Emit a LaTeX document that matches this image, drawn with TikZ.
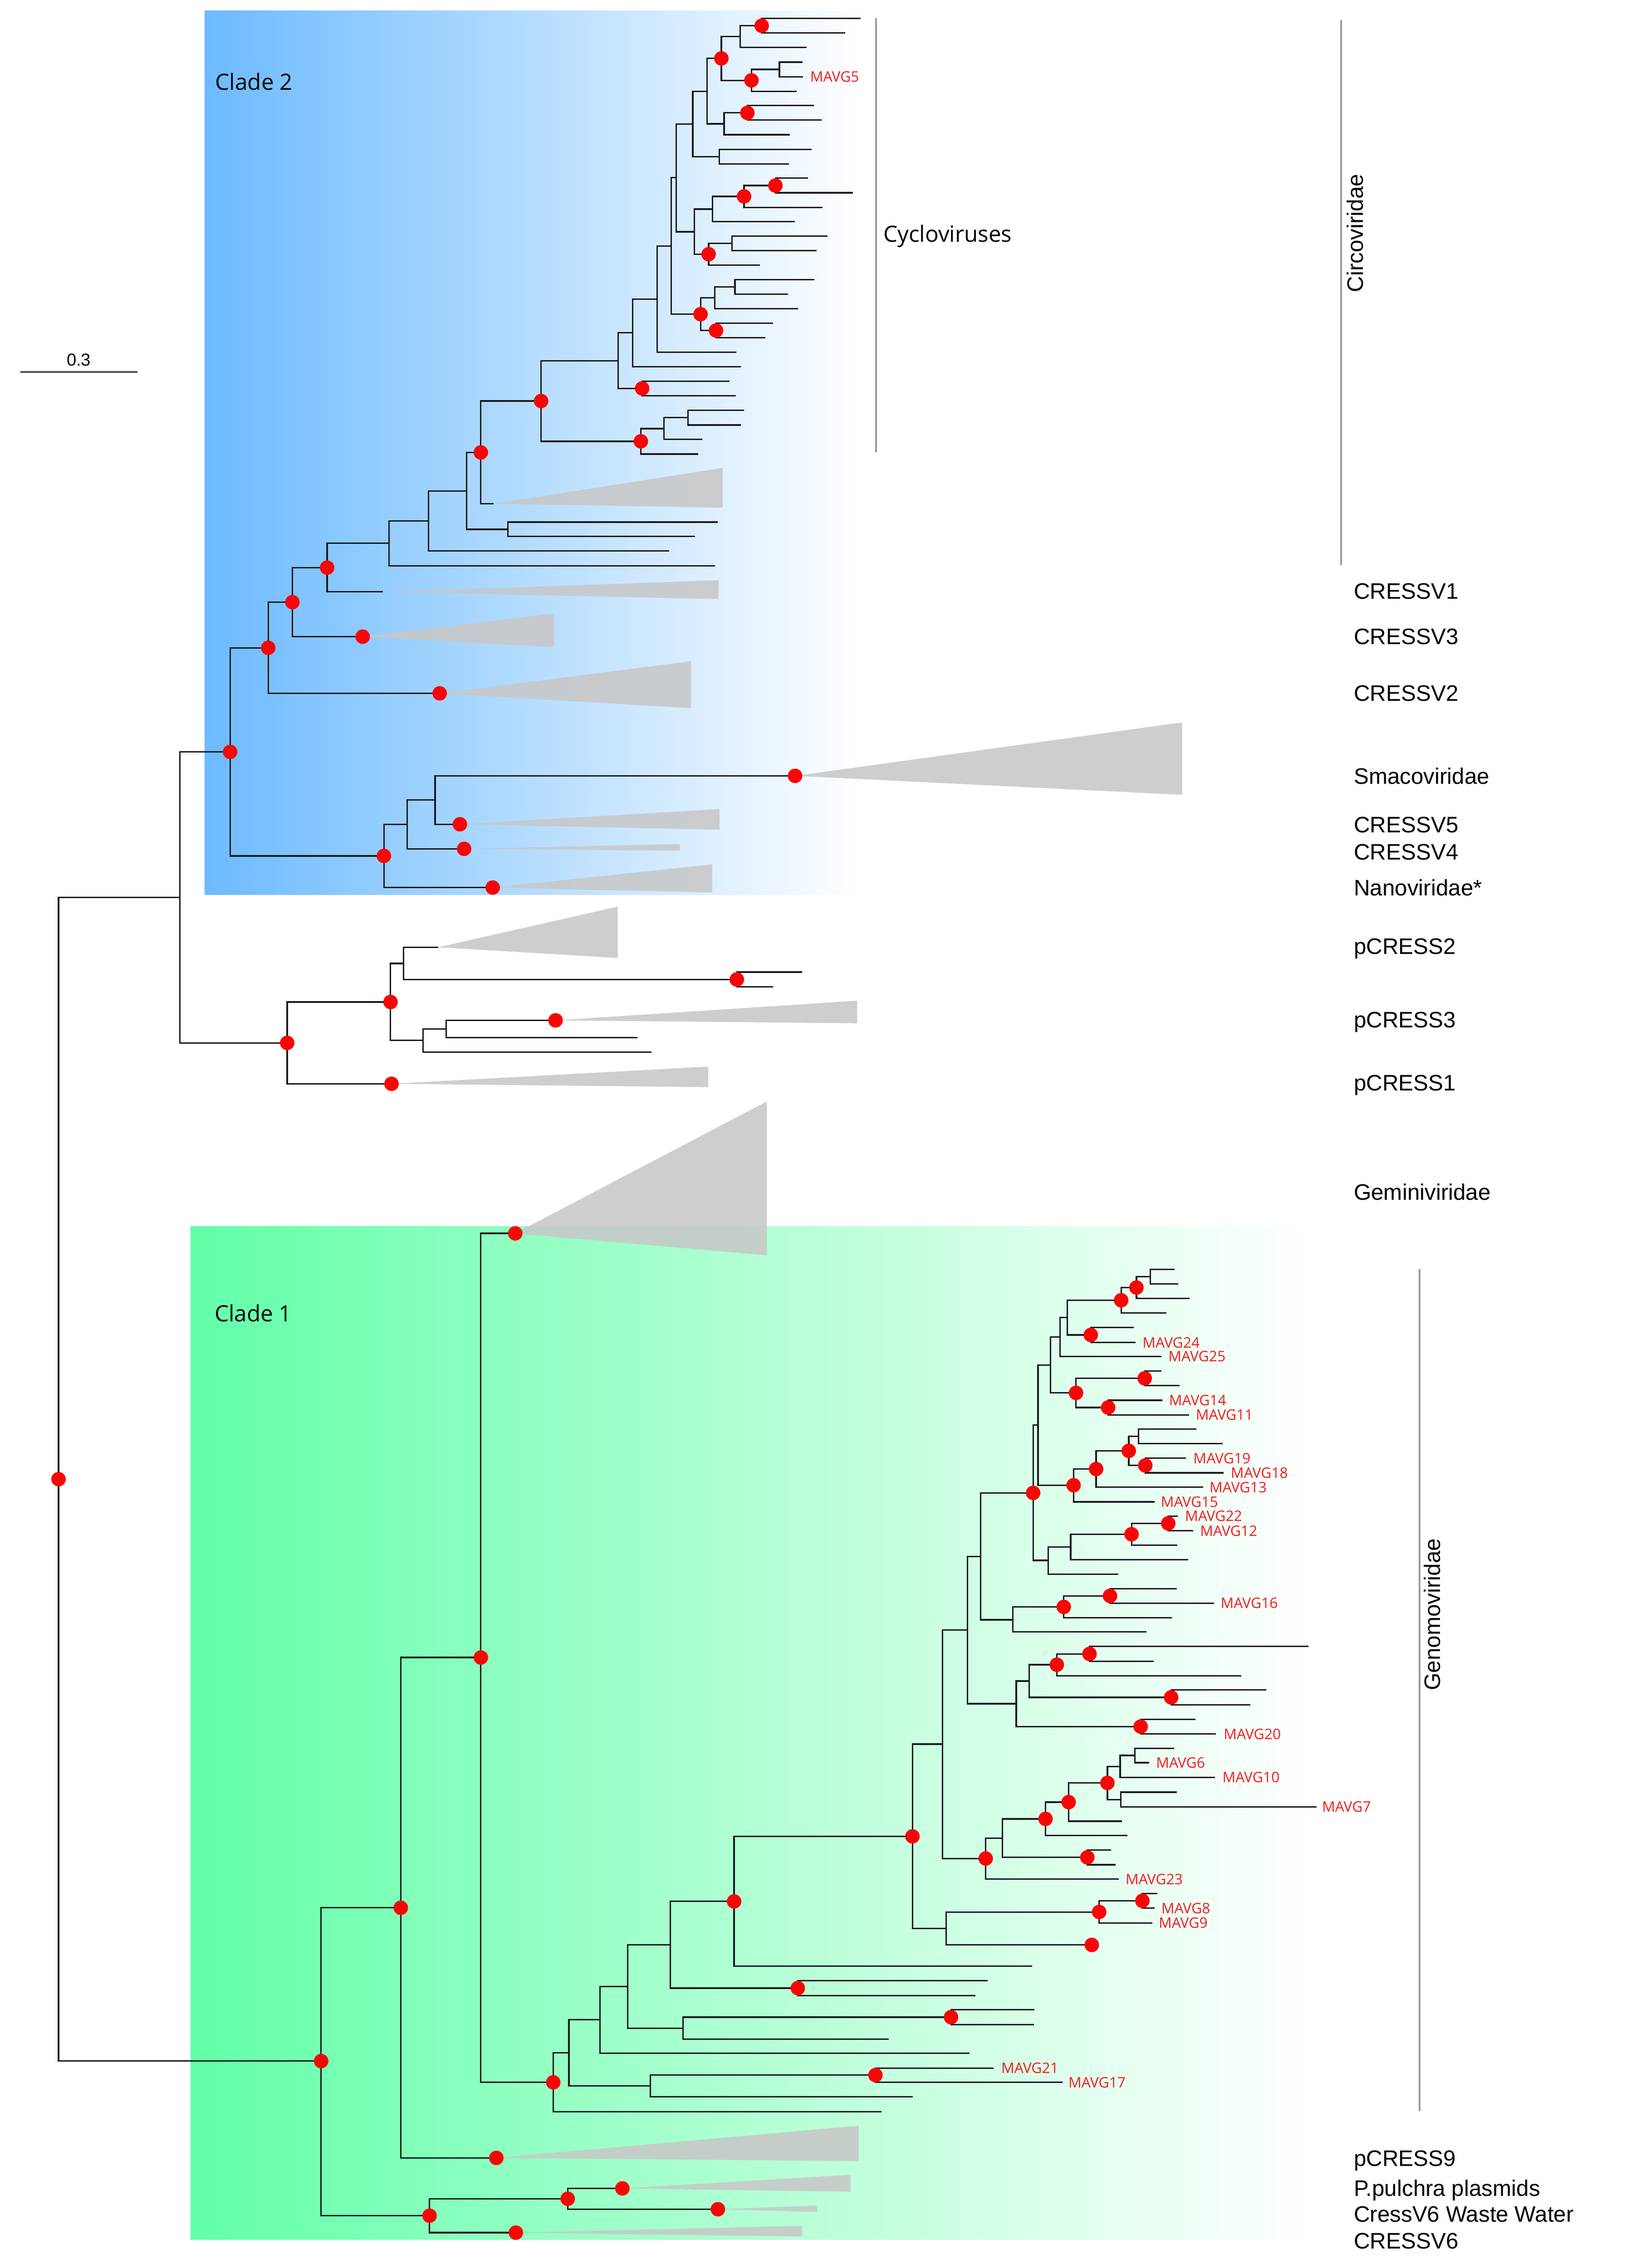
\documentclass[tikz,border=0pt]{standalone}
\usepackage{fontspec}
\setmainfont{Liberation Sans}
\newfontfamily\osans{Open Sans}
\definecolor{brc}{RGB}{25,25,25}
\definecolor{dotc}{RGB}{250,5,5}
\definecolor{tric}{RGB}{200,200,200}
\definecolor{bluL}{RGB}{108,186,255}
\definecolor{bluR}{RGB}{255,255,255}
\definecolor{grnL}{RGB}{98,255,168}
\definecolor{grnR}{RGB}{255,255,255}
\definecolor{mavc}{RGB}{240,30,30}
\definecolor{brkc}{RGB}{155,155,155}
\newcommand{\tpt}[3]{\coordinate (#1) at (#2,#3);}
\newcommand{\tkids}[3]{\draw[br] (#2) -| (#1) |- (#3);}
\newcommand{\ttri}[4]{\fill[tri] (#1) -- (#2,#3) -- (#2,#4) -- cycle;}
\tikzset{
  br/.style={draw=brc, line width=1pt, line join=miter},
  tri/.style={fill=tric, fill opacity=0.88},
  brk/.style={draw=brkc, line width=1.2pt},
  lab/.style={font=\fontsize{15.5}{16}\selectfont, inner sep=0pt, anchor=base west},
  mav/.style={font=\osans\fontsize{10}{11}\selectfont, text=mavc, inner sep=0pt, anchor=base west},
  cld/.style={font=\osans\fontsize{15.5}{16}\selectfont, inner sep=0pt, anchor=base west},
}
\begin{document}
\begin{tikzpicture}[x=1pt,y=-1pt]
\useasboundingbox (0,0) rectangle (1125,1569.5);
\fill[white] (0,0) rectangle (1125,1569.5);
% clade backgrounds
\shade[left color=bluL, right color=bluR] (141.7,7.4) rectangle (596,619.3);
\shade[left color=grnL, right color=grnR] (131.8,848.6) rectangle (905,1549.9);

% ---------------- coordinates: Clade 2 ----------------
\tpt{root}{40.5}{1023.6}
\tpt{nA}{124.4}{621.0}
\tpt{nCl2}{159.2}{520.3}
\tpt{nB}{185.6}{448.3}
\tpt{aV2}{304.2}{479.8}
\tpt{nC}{202.3}{416.7}
\tpt{aV3}{250.9}{440.6}
\tpt{nD}{226.3}{392.8}
\tpt{aV1}{264.8}{409.6}
\tpt{nE}{269.1}{376.0}
\tpt{nF}{296.5}{360.5}
\tpt{tE}{494.6}{391.6}
\tpt{nG}{322.9}{339.7}
\tpt{tF}{462.9}{381.2}
\tpt{nI}{351.5}{366.3}
\tpt{tI1}{496.7}{361.3}
\tpt{tI2}{480.9}{371.3}
\tpt{nH}{332.7}{313.1}
\tpt{aH}{341.4}{348.6}
\tpt{nJ}{374.4}{277.5}
\tpt{nL}{443.4}{305.4}
\tpt{nM}{459.5}{296.6}
\tpt{tL}{483.0}{314.2}
\tpt{nN}{476.1}{289.0}
\tpt{tM}{485.8}{304.1}
\tpt{tN1}{514.8}{284.0}
\tpt{tN2}{512.6}{294.1}
\tpt{nK}{427.7}{249.6}
\tpt{nP}{444.3}{268.8}
\tpt{tP1}{504.7}{263.8}
\tpt{tP2}{509.0}{273.9}
\tpt{nO}{437.8}{230.3}
\tpt{tO}{512.6}{253.7}
\tpt{nQ}{454.6}{207.0}
\tpt{tQ}{509.4}{243.8}
\tpt{nR}{464.3}{170.2}
\tpt{nT}{484.7}{217.4}
\tpt{nU}{494.6}{206.1}
\tpt{tU}{552.0}{213.5}
\tpt{nW}{508.5}{198.6}
\tpt{tW1}{563.6}{193.5}
\tpt{tW2}{545.1}{203.6}
\tpt{nV}{495.4}{228.7}
\tpt{tV1}{534.8}{223.6}
\tpt{tV2}{529.4}{233.7}
\tpt{nS}{467.9}{123.0}
\tpt{nX}{479.3}{85.8}
\tpt{nY}{480.4}{160.4}
\tpt{nZ}{492.9}{144.7}
\tpt{tZ}{549.8}{153.4}
\tpt{nAC}{514.8}{135.9}
\tpt{tAC}{569.0}{143.5}
\tpt{nAD}{536.5}{128.4}
\tpt{tAD1}{558.9}{123.3}
\tpt{tAD2}{590.0}{133.4}
\tpt{nAA}{490.3}{175.9}
\tpt{nAB}{506.6}{168.3}
\tpt{tAA}{525.8}{183.5}
\tpt{tAB1}{572.4}{163.3}
\tpt{tAB2}{564.9}{173.4}
\tpt{nAE}{489.2}{63.2}
\tpt{nAF}{497.8}{108.4}
\tpt{tAF1}{561.7}{103.3}
\tpt{tAF2}{546.0}{113.4}
\tpt{nAG}{499.1}{40.4}
\tpt{nAH}{501.0}{85.7}
\tpt{nAI}{517.1}{78.1}
\tpt{tAH}{546.6}{93.2}
\tpt{tAI1}{563.2}{73.1}
\tpt{tAI2}{568.5}{83.1}
\tpt{nAJ}{512.2}{25.3}
\tpt{nAK}{519.9}{55.6}
\tpt{nAL}{539.3}{48.0}
\tpt{tAK}{551.3}{63.2}
\tpt{tAL1}{555.2}{43.0}
\tpt{tAL2}{555.6}{53.1}
\tpt{nAM}{527.0}{17.8}
\tpt{tAJ}{558.0}{32.9}
\tpt{tAM1}{595.4}{12.7}
\tpt{tAM2}{584.7}{22.8}
\tpt{nBB}{265.6}{592.3}
\tpt{aNano}{340.9}{614.2}
\tpt{nCC}{281.8}{570.5}
\tpt{aV4}{321.1}{587.4}
\tpt{nDD}{301.0}{553.6}
\tpt{aSma}{550.1}{536.9}
\tpt{aV5}{318.2}{570.4}
% pCRESS
\tpt{nPC}{198.7}{721.7}
\tpt{aP1}{270.9}{750.0}
\tpt{nPA}{270.2}{693.4}
\tpt{nPB}{279.2}{666.7}
\tpt{aP2}{303.3}{655.5}
\tpt{nPE}{509.8}{677.8}
\tpt{tPE1}{555.0}{672.7}
\tpt{tPE2}{534.8}{682.9}
\tpt{nPD}{292.7}{720.0}
\tpt{nPF}{308.7}{712.0}
\tpt{tPD}{450.8}{728.0}
\tpt{aP3}{384.4}{706.1}
\tpt{tPF}{441.1}{718.0}
% ---------------- Clade 1 ----------------
\tpt{nG1}{222.2}{1426.3}
\tpt{nG2}{277.3}{1320.2}
\tpt{nG3}{332.7}{1147.0}
\tpt{aGem}{356.5}{853.5}
\tpt{aP9}{343.4}{1493.3}
\tpt{nG4}{297.2}{1533.3}
\tpt{nG5}{392.8}{1521.6}
\tpt{aPp}{430.6}{1514.4}
\tpt{aWW}{496.7}{1528.8}
\tpt{aV6}{356.9}{1545.0}
\tpt{n382}{382.8}{1441.0}
\tpt{n394}{393.6}{1420.6}
\tpt{t382}{609.9}{1461.3}
\tpt{n415}{415.1}{1397.7}
\tpt{n450}{449.9}{1443.5}
\tpt{n606}{605.7}{1436.0}
\tpt{t450}{631.5}{1451.1}
\tpt{tM21}{687.5}{1431.1}
\tpt{tM17}{735.2}{1441.0}
\tpt{n434}{434.3}{1374.8}
\tpt{t415}{670.8}{1420.9}
\tpt{n464}{463.7}{1345.9}
\tpt{n473}{472.5}{1403.5}
\tpt{n658}{658.0}{1395.9}
\tpt{t473}{614.8}{1411.0}
\tpt{t658a}{715.8}{1390.8}
\tpt{t658b}{715.3}{1401.0}
\tpt{n552}{552.0}{1375.8}
\tpt{t552a}{683.5}{1370.7}
\tpt{t552b}{675.0}{1380.9}
\tpt{n508}{507.9}{1315.8}
\tpt{t508}{714.0}{1360.6}
\tpt{n631}{631.3}{1270.8}
\tpt{n652}{652.1}{1206.9}
\tpt{n655}{654.6}{1334.5}
\tpt{n760}{760.5}{1323.1}
\tpt{n755}{755.4}{1345.9}
\tpt{n790}{790.4}{1315.4}
\tpt{tM9}{797.3}{1330.7}
\tpt{t790a}{800.6}{1310.3}
\tpt{tM8}{798.8}{1320.5}
\tpt{n669}{669.3}{1128.0}
\tpt{n682}{682.0}{1286.1}
\tpt{n694}{693.5}{1272.0}
\tpt{tM23}{774.1}{1300.4}
\tpt{n723}{723.4}{1258.7}
\tpt{n752}{752.3}{1285.3}
\tpt{t752a}{768.6}{1280.2}
\tpt{t752b}{771.9}{1290.4}
\tpt{n739}{739.4}{1247.1}
\tpt{t723}{780.1}{1270.3}
\tpt{n766}{766.2}{1233.8}
\tpt{t739}{776.2}{1260.3}
\tpt{n775}{775.0}{1222.4}
\tpt{n776}{775.6}{1245.3}
\tpt{n785}{785.2}{1214.8}
\tpt{tM10}{840.7}{1230.0}
\tpt{t785}{812.4}{1209.8}
\tpt{tM6}{795.2}{1219.8}
\tpt{t776}{814.2}{1240.2}
\tpt{tM7}{910.8}{1250.4}
\tpt{n678}{678.4}{1077.1}
\tpt{n703}{703.1}{1179.0}
\tpt{n712}{712.2}{1163.3}
\tpt{n789}{789.2}{1194.8}
\tpt{t789}{827.2}{1189.7}
\tpt{tM20}{841.4}{1199.9}
\tpt{n731}{731.2}{1152.0}
\tpt{n810}{810.3}{1174.6}
\tpt{t810a}{876.1}{1169.5}
\tpt{t810b}{865.2}{1179.7}
\tpt{n754}{753.8}{1144.5}
\tpt{t731}{858.9}{1159.6}
\tpt{t754a}{905.3}{1139.4}
\tpt{t754b}{798.2}{1149.6}
\tpt{n715}{714.8}{1033.1}
\tpt{n701}{700.7}{1120.9}
\tpt{n736}{736.0}{1112.0}
\tpt{t701}{793.1}{1129.3}
\tpt{n768}{768.0}{1104.4}
\tpt{t736}{810.9}{1119.5}
\tpt{t768}{814.2}{1099.4}
\tpt{tM16}{839.9}{1109.4}
\tpt{n718}{718.2}{986.1}
\tpt{n725}{725.3}{1079.8}
\tpt{n741}{740.8}{1070.5}
\tpt{t725}{773.9}{1089.3}
\tpt{n783}{782.9}{1061.7}
\tpt{t741}{822.1}{1079.3}
\tpt{n808}{808.3}{1054.2}
\tpt{t783}{814.6}{1069.2}
\tpt{tM22}{815.0}{1049.2}
\tpt{tM12}{825.6}{1059.3}
\tpt{n727}{726.7}{944.6}
\tpt{n743}{742.8}{1027.8}
\tpt{n758}{758.4}{1016.6}
\tpt{tM15}{798.8}{1039.3}
\tpt{n781}{781.0}{1004.0}
\tpt{tM13}{832.3}{1029.2}
\tpt{n788}{787.8}{993.9}
\tpt{n792}{792.4}{1014.1}
\tpt{t788a}{827.7}{988.9}
\tpt{t788b}{845.8}{998.9}
\tpt{tM19}{820.5}{1009.1}
\tpt{tM18}{846.7}{1019.2}
\tpt{n734}{733.5}{925.3}
\tpt{n745}{744.5}{963.9}
\tpt{n792b}{792.0}{953.8}
\tpt{t792a}{803.6}{948.7}
\tpt{t792b}{816.1}{958.8}
\tpt{n767}{766.7}{974.0}
\tpt{tM14}{804.2}{969.0}
\tpt{tM11}{822.6}{979.1}
\tpt{n739b}{738.5}{911.8}
\tpt{tM25}{803.6}{938.7}
\tpt{n776b}{775.7}{899.8}
\tpt{n755b}{754.7}{923.8}
\tpt{t755a}{784.4}{918.7}
\tpt{tM24}{785.7}{929.0}
\tpt{n786}{786.3}{891.0}
\tpt{t776b}{807.0}{908.6}
\tpt{n796}{795.9}{883.4}
\tpt{t786}{822.9}{898.5}
\tpt{t796a}{812.7}{878.5}
\tpt{t796b}{815.3}{888.6}

% ---------------- collapsed clades ----------------
\ttri{aV2}{478.0}{457.6}{490.1}
\ttri{aV3}{383.2}{424.4}{447.8}
\ttri{aV1}{497.2}{401.5}{414.6}
\ttri{aH}{499.9}{323.8}{351.3}
\ttri{aNano}{492.7}{598.2}{617.6}
\ttri{aV4}{470.3}{584.1}{588.7}
\ttri{aV5}{497.8}{559.9}{574.2}
\ttri{aSma}{817.9}{499.9}{550.0}
\ttri{aP1}{490.0}{738.1}{752.3}
\ttri{aP2}{427.4}{627.4}{662.9}
\ttri{aP3}{593.1}{692.5}{708.1}
\ttri{aGem}{530.6}{762.2}{868.7}
\ttri{aP9}{594.2}{1471.0}{1495.5}
\ttri{aPp}{588.4}{1505.0}{1516.7}
\ttri{aWW}{565.3}{1526.3}{1530.7}
\ttri{aV6}{555.0}{1540.3}{1547.7}

% ---------------- branches ----------------
\tkids{root}{nA}{nG1}
\tkids{nA}{nCl2}{nPC}
\tkids{nCl2}{nB}{nBB}
\tkids{nB}{nC}{aV2}
\tkids{nC}{nD}{aV3}
\tkids{nD}{nE}{aV1}
\tkids{nE}{nF}{tE}
\tkids{nF}{nG}{tF}
\tkids{nG}{nH}{nI}
\tkids{nI}{tI1}{tI2}
\tkids{nH}{nJ}{aH}
\tkids{nJ}{nK}{nL}
\tkids{nL}{nM}{tL}
\tkids{nM}{nN}{tM}
\tkids{nN}{tN1}{tN2}
\tkids{nK}{nO}{nP}
\tkids{nP}{tP1}{tP2}
\tkids{nO}{nQ}{tO}
\tkids{nQ}{nR}{tQ}
\tkids{nR}{nS}{nT}
\tkids{nT}{nU}{nV}
\tkids{nU}{nW}{tU}
\tkids{nW}{tW1}{tW2}
\tkids{nV}{tV1}{tV2}
\tkids{nS}{nX}{nY}
\tkids{nY}{nZ}{nAA}
\tkids{nZ}{nAC}{tZ}
\tkids{nAC}{nAD}{tAC}
\tkids{nAD}{tAD1}{tAD2}
\tkids{nAA}{nAB}{tAA}
\tkids{nAB}{tAB1}{tAB2}
\tkids{nX}{nAE}{nAF}
\tkids{nAF}{tAF1}{tAF2}
\tkids{nAE}{nAG}{nAH}
\tkids{nAH}{nAI}{tAH}
\tkids{nAI}{tAI1}{tAI2}
\tkids{nAG}{nAJ}{nAK}
\tkids{nAK}{nAL}{tAK}
\tkids{nAL}{tAL1}{tAL2}
\tkids{nAJ}{nAM}{tAJ}
\tkids{nAM}{tAM1}{tAM2}
\tkids{nBB}{nCC}{aNano}
\tkids{nCC}{nDD}{aV4}
\tkids{nDD}{aSma}{aV5}
\tkids{nPC}{nPA}{aP1}
\tkids{nPA}{nPB}{nPD}
\tkids{nPB}{aP2}{nPE}
\tkids{nPE}{tPE1}{tPE2}
\tkids{nPD}{nPF}{tPD}
\tkids{nPF}{aP3}{tPF}
\tkids{nG1}{nG2}{nG4}
\tkids{nG2}{nG3}{aP9}
\tkids{nG3}{aGem}{n382}
\tkids{nG4}{nG5}{aV6}
\tkids{nG5}{aPp}{aWW}
\tkids{n382}{n394}{t382}
\tkids{n394}{n415}{n450}
\tkids{n450}{n606}{t450}
\tkids{n606}{tM21}{tM17}
\tkids{n415}{n434}{t415}
\tkids{n434}{n464}{n473}
\tkids{n473}{n658}{t473}
\tkids{n658}{t658a}{t658b}
\tkids{n464}{n508}{n552}
\tkids{n552}{t552a}{t552b}
\tkids{n508}{n631}{t508}
\tkids{n631}{n652}{n655}
\tkids{n655}{n760}{n755}
\tkids{n760}{n790}{tM9}
\tkids{n790}{t790a}{tM8}
\tkids{n652}{n669}{n682}
\tkids{n682}{n694}{tM23}
\tkids{n694}{n723}{n752}
\tkids{n752}{t752a}{t752b}
\tkids{n723}{n739}{t723}
\tkids{n739}{n766}{t739}
\tkids{n766}{n775}{n776}
\tkids{n775}{n785}{tM10}
\tkids{n785}{t785}{tM6}
\tkids{n776}{t776}{tM7}
\tkids{n669}{n678}{n703}
\tkids{n703}{n712}{n789}
\tkids{n789}{t789}{tM20}
\tkids{n712}{n731}{n810}
\tkids{n810}{t810a}{t810b}
\tkids{n731}{n754}{t731}
\tkids{n754}{t754a}{t754b}
\tkids{n678}{n715}{n701}
\tkids{n701}{n736}{t701}
\tkids{n736}{n768}{t736}
\tkids{n768}{t768}{tM16}
\tkids{n715}{n718}{n725}
\tkids{n725}{n741}{t725}
\tkids{n741}{n783}{t741}
\tkids{n783}{n808}{t783}
\tkids{n808}{tM22}{tM12}
\tkids{n718}{n727}{n743}
\tkids{n743}{n758}{tM15}
\tkids{n758}{n781}{tM13}
\tkids{n781}{n788}{n792}
\tkids{n788}{t788a}{t788b}
\tkids{n792}{tM19}{tM18}
\tkids{n727}{n734}{n745}
\tkids{n745}{n792b}{n767}
\tkids{n792b}{t792a}{t792b}
\tkids{n767}{tM14}{tM11}
\tkids{n734}{n739b}{tM25}
\tkids{n739b}{n776b}{n755b}
\tkids{n755b}{t755a}{tM24}
\tkids{n776b}{n786}{t776b}
\tkids{n786}{n796}{t786}
\tkids{n796}{t796a}{t796b}

% ---------------- support dots ----------------
\foreach \n in {root,nCl2,nB,nC,nD,aV2,aV3,nH,nJ,nL,nP,nT,nV,nAA,nAC,nAD,nAG,nAK,nAI,nAM,
  nBB,aNano,aV4,aV5,aSma,nPE,nPA,aP3,nPC,aP1,
  aGem,nG3,nG2,nG1,aP9,nG4,nG5,aPp,aWW,aV6,n382,n606,n552,n658,n508,n631,n755,n760,n790,
  n682,n723,n739,n766,n752,n789,n810,n731,n754,n736,n768,n715,n743,n758,n781,n792,n745,
  n792b,n767,n755b,n776b,n786,n783,n808}
  \fill[dotc] (\n) circle[radius=5pt];

% ---------------- brackets ----------------
\coordinate (cyT) at (606.2,12.7); \coordinate (cyB) at (606.2,313.0);
\coordinate (ciT) at (927.9,13.7); \coordinate (ciB) at (927.9,391.1);
\coordinate (geT) at (982.2,878.4); \coordinate (geB) at (982.2,1461.0);
\draw[brk] (cyT) -- (cyB);
\draw[brk] (ciT) -- (ciB);
\draw[brk] (geT) -- (geB);

% scale bar
\coordinate (sbL) at (14,257.5); \coordinate (sbR) at (95,257.5);
\draw[draw={rgb,255:red,80;green,80;blue,80}, line width=1.3pt] (sbL) -- (sbR);
\node[font=\fontsize{12}{13}\selectfont, inner sep=0pt, anchor=base] (sbT) at (54.5,253.3) {0.3};

% ---------------- labels ----------------
\node[cld] (lC2) at (148.8,62.3) {Clade 2};
\node[cld] (lC1) at (148.3,914.5) {Clade 1};
\node[cld] (lCy) at (611,167.5) {Cycloviruses};
\node[font=\fontsize{15.5}{16}\selectfont, inner sep=0pt, anchor=base, rotate=90] (lCi) at (943,161.4) {Circoviridae};
\node[font=\fontsize{15.5}{16}\selectfont, inner sep=0pt, anchor=base, rotate=90] (lGe) at (996.5,1117.2) {Genomoviridae};

\node[lab] (l1) at (936.5,414.6) {CRESSV1};
\node[lab] (l2) at (936.5,445.8) {CRESSV3};
\node[lab] (l3) at (936.5,485.2) {CRESSV2};
\node[lab] (l4) at (936.5,542.6) {Smacoviridae};
\node[lab] (l5) at (936.5,576.0) {CRESSV5};
\node[lab] (l6) at (936.5,595.1) {CRESSV4};
\node[lab] (l7) at (936.5,619.8) {Nanoviridae*};
\node[lab] (l8) at (936.5,660.2) {pCRESS2};
\node[lab] (l9) at (936.5,711.1) {pCRESS3};
\node[lab] (l10) at (936.5,754.9) {pCRESS1};
\node[lab] (l11) at (936.5,830.3) {Geminiviridae};
\node[lab] (l12) at (936.5,1499.0) {pCRESS9};
\node[lab] (l13) at (936.5,1519.7) {P.pulchra plasmids};
\node[lab] (l14) at (936.5,1537.5) {CressV6 Waste Water};
\node[lab] (l15) at (936.5,1556.0) {CRESSV6};

\node[mav] (m5) at (560.4,56.7) {MAVG5};
\node[mav] (m24) at (790.3,932.6) {MAVG24};
\node[mav] (m25) at (808.2,942.3) {MAVG25};
\node[mav] (m14) at (808.7,972.6) {MAVG14};
\node[mav] (m11) at (827.2,982.7) {MAVG11};
\node[mav] (m19) at (825.5,1012.7) {MAVG19};
\node[mav] (m18) at (851.4,1022.8) {MAVG18};
\node[mav] (m13) at (836.7,1032.8) {MAVG13};
\node[mav] (m15) at (803.0,1042.9) {MAVG15};
\node[mav] (m22) at (819.7,1052.8) {MAVG22};
\node[mav] (m12) at (830.2,1062.9) {MAVG12};
\node[mav] (m16) at (844.4,1113.0) {MAVG16};
\node[mav] (m20) at (846.5,1203.5) {MAVG20};
\node[mav] (m6) at (799.7,1223.4) {MAVG6};
\node[mav] (m10) at (845.6,1233.6) {MAVG10};
\node[mav] (m7) at (914.5,1254.0) {MAVG7};
\node[mav] (m23) at (778.6,1304.0) {MAVG23};
\node[mav] (m8) at (803.3,1324.1) {MAVG8};
\node[mav] (m9) at (801.5,1334.3) {MAVG9};
\node[mav] (m21) at (692.6,1434.7) {MAVG21};
\node[mav] (m17) at (739.1,1444.7) {MAVG17};
\end{tikzpicture}
\end{document}
